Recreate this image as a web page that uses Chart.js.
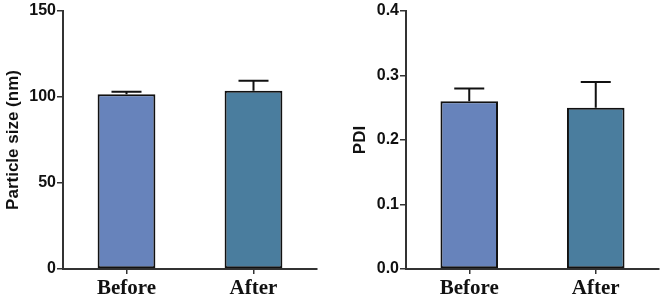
<!DOCTYPE html>
<html>
<head>
<meta charset="utf-8">
<script src="https://cdn.jsdelivr.net/npm/chart.js@4.4.1/dist/chart.umd.min.js"></script>
<style>
  html, body { margin: 0; padding: 0; background: #fff; }
  #wrap { position: relative; width: 661px; height: 301px; overflow: hidden; }
  .box { position: absolute; top: 0; }
</style>
</head>
<body>
<div id="wrap">
  <div class="box" style="left:0px;width:330px;height:301px"><canvas id="c1" width="330" height="301"></canvas></div>
  <div class="box" style="left:330px;width:331px;height:301px"><canvas id="c2" width="331" height="301"></canvas></div>
</div>
<script>
// ---- data ----
const categories = ["Before", "After"];
const sizeValues = [101.6, 103.7];
const sizeErrors = [1.5, 5.7];
const pdiValues = [0.26, 0.25];
const pdiErrors = [0.02, 0.04];
const barColors = ["#6783bb", "#4a7d9e"];
const sizeTicks = [0, 50, 100, 150];
const pdiTicks = [0.0, 0.1, 0.2, 0.3, 0.4];

const errorBarPlugin = {
  id: 'errorBars',
  afterDatasetsDraw(chart) {
    const ctx = chart.ctx;
    const yScale = chart.scales.y;
    chart.data.datasets.forEach((ds, di) => {
      const meta = chart.getDatasetMeta(di);
      meta.data.forEach((bar, i) => {
        const v = ds.data[i];
        const e = ds.errors[i];
        const yTop = bar.y;
        const yCap = yScale.getPixelForValue(v + e);
        ctx.save();
        ctx.strokeStyle = '#111';
        ctx.lineWidth = 2;
        ctx.beginPath();
        ctx.moveTo(bar.x, yTop);
        ctx.lineTo(bar.x, yCap);
        ctx.moveTo(bar.x - 15, yCap);
        ctx.lineTo(bar.x + 15, yCap);
        ctx.stroke();
        ctx.restore();
      });
    });
  }
};

function makeChart(id, values, errors, ticksArr, title, yWidth, titlePad, decimals, padRight) {
  return new Chart(document.getElementById(id), {
    type: 'bar',
    data: {
      labels: categories,
      datasets: [{
        data: values,
        errors: errors,
        backgroundColor: barColors,
        borderColor: '#111',
        borderWidth: 2,
        borderSkipped: false,
        categoryPercentage: 1.0,
        barPercentage: 0.455
      }]
    },
    options: {
      responsive: false,
      animation: false,
      events: [],
      layout: { padding: { top: 11, right: padRight, left: 0, bottom: 0 } },
      plugins: { legend: { display: false }, tooltip: { enabled: false } },
      scales: {
        x: {
          type: 'category',
          offset: true,
          grid: { display: true, drawOnChartArea: false, drawTicks: true, tickLength: 5, offset: false, color: '#333', lineWidth: 1.5 },
          border: { display: true, color: '#333', width: 2 },
          ticks: { color: '#111', padding: 2, font: { family: 'Liberation Serif', weight: 'bold', size: 21 } },
          afterFit(scale) { scale.height = 32; }
        },
        y: {
          min: ticksArr[0],
          max: ticksArr[ticksArr.length - 1],
          afterBuildTicks(scale) { scale.ticks = ticksArr.map(v => ({ value: v })); },
          grid: { display: true, drawOnChartArea: false, drawTicks: true, tickLength: 6, color: '#333', lineWidth: 1.5 },
          border: { display: true, color: '#333', width: 2 },
          ticks: {
            color: '#111', padding: 1,
            font: { family: 'Liberation Sans', weight: 'bold', size: 16 },
            callback: v => Number(v).toFixed(decimals)
          },
          title: {
            display: true, text: title, color: '#111',
            font: { family: 'Liberation Sans', weight: 'bold', size: 17 },
            padding: { top: titlePad, bottom: 0 }
          },
          afterFit(scale) { scale.width = yWidth; }
        }
      }
    },
    plugins: [errorBarPlugin]
  });
}

makeChart('c1', sizeValues, sizeErrors, sizeTicks, 'Particle size (nm)', 63, 3, 0, 13);
makeChart('c2', pdiValues, pdiErrors, pdiTicks, 'PDI', 76, 20, 1, 2);
</script>
</body>
</html>
